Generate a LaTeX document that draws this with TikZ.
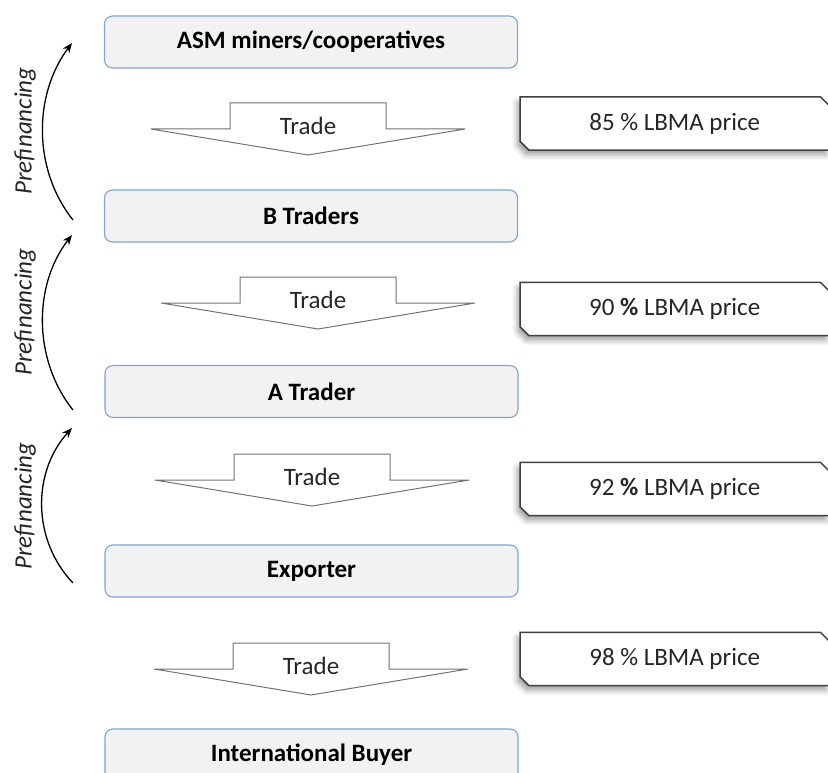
\documentclass[tikz,border=0pt]{standalone}
\usepackage{fontspec}
\setmainfont{Carlito}
\usepackage{tikz}
\usetikzlibrary{arrows.meta, positioning, backgrounds, shadows.blur}

\definecolor{stageblue}{RGB}{125,165,215}
\definecolor{stagefill}{RGB}{242,242,242}
\definecolor{tradegray}{RGB}{115,115,115}
\definecolor{textgray}{RGB}{38,38,38}

\begin{document}
\begin{tikzpicture}[x=1pt, y=-1pt,
  stage/.style={draw=stageblue, fill=stagefill, line width=1.1pt, rounded corners=8pt,
    minimum width=413pt, minimum height=52pt, inner sep=0pt,
    font=\fontsize{25}{30}\selectfont\bfseries},
  pricebox/.style={anchor=west, minimum width=309pt, minimum height=53pt, inner sep=0pt,
    text=textgray, font=\fontsize{25}{30}\selectfont},
  priceframe/.style={draw=black!75, fill=white, line width=1.5pt,
    blur shadow={shadow xshift=-3pt, shadow yshift=-5pt, shadow blur radius=5pt, shadow opacity=35}},
  tradearrow/.style={draw=tradegray, fill=white, line width=1pt, line join=miter},
  tradetext/.style={text=textgray, inner sep=0pt, font=\fontsize{25}{30}\selectfont},
  prefin/.style={-{Stealth[length=10pt,width=8pt]}, line width=1.3pt},
  prelabel/.style={rotate=90, text=textgray, inner sep=0pt, font=\fontsize{25}{30}\selectfont\itshape}]

  \useasboundingbox (0,0) rectangle (828,773);

  % Supply chain stages
  \node[stage] (asm) at (311,42) {ASM miners/cooperatives};
  \node[stage] (btr) at (311,216) {B Traders};
  \node[stage] (atr) at (311.5,391.5) {A Trader};
  \node[stage] (exp) at (311.5,571) {Exporter};
  \node[stage] (buyer) at (311.5,755) {International Buyer};

  % Trade arrows between stages
  \foreach \cx/\ty [count=\i] in {308/103, 318/277, 312/454, 311/643} {
    \draw[tradearrow] (\cx-157,\ty+26) -- (\cx-78,\ty+26) -- (\cx-78,\ty)
      -- (\cx+78,\ty) -- (\cx+78,\ty+26) -- (\cx+157,\ty+26) -- (\cx,\ty+52) -- cycle;
    \node[tradetext] (trade\i) at (\cx,\ty+23) {Trade};
  }

  % Price paid at each step
  \node[pricebox] (p85) at (520,123.5) {85 \% LBMA price};
  \node[pricebox] (p90) at (520,309) {90 \textbf{\%} LBMA price};
  \node[pricebox] (p92) at (520,489) {92 \textbf{\%} LBMA price};
  \node[pricebox] (p98) at (520,659) {98 \% LBMA price};

  % chamfered frames behind the prices
  \begin{scope}[on background layer]
    \foreach \p in {p85, p90, p92, p98}
      \draw[priceframe] (\p.north west) -- ([xshift=-9pt]\p.north east)
        -- ([yshift=-9pt]\p.north east) -- (\p.south east)
        -- ([xshift=9pt]\p.south west) -- ([yshift=9pt]\p.south west) -- cycle;
  \end{scope}

  % Prefinancing flows upstream
  \coordinate (pf1b) at (73,220);
  \coordinate (pf1t) at (72,43);
  \draw[prefin] (pf1b) .. controls (33,170) and (33,95) .. (pf1t);
  \node[prelabel] (pf1) at (25,131) {Prefinancing};

  \coordinate (pf2b) at (73,410);
  \coordinate (pf2t) at (72,235);
  \draw[prefin] (pf2b) .. controls (33,360) and (33,285) .. (pf2t);
  \node[prelabel] (pf2) at (25,312) {Prefinancing};

  \coordinate (pf3b) at (73,583);
  \coordinate (pf3t) at (72,428);
  \draw[prefin] (pf3b) .. controls (32,540) and (32,472) .. (pf3t);
  \node[prelabel] (pf3) at (25,506) {Prefinancing};
\end{tikzpicture}
\end{document}
